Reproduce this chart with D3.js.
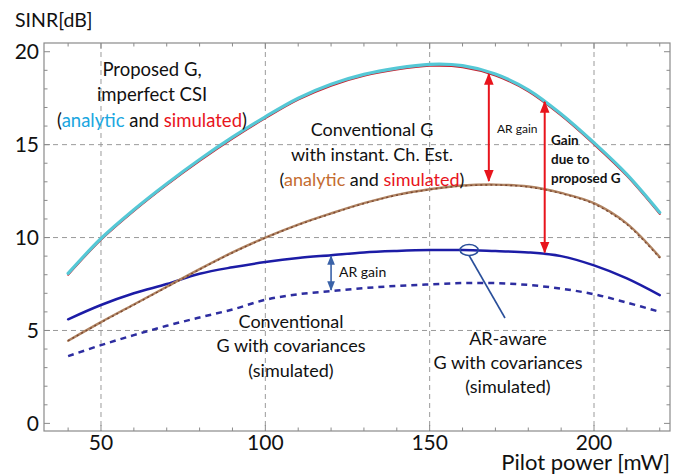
<!DOCTYPE html>
<html>
<head>
<meta charset="utf-8">
<script src="https://cdn.jsdelivr.net/npm/d3@7"></script>
<style>
  html, body { margin: 0; padding: 0; background: #fff; }
  svg text { font-family: Lato, "Noto Sans", sans-serif; }
</style>
</head>
<body>
<svg id="chart" width="684" height="475"></svg>
<script>
// Pilot power sweep [mW]
const pilotPower = [40, 50, 60, 70, 80, 90, 100, 110, 120, 130, 140, 150, 160, 170, 180, 190, 200, 210, 220];

// SINR [dB] per curve
const proposedAnalytic   = [8.07, 9.95, 11.5, 12.9, 14.2, 15.4, 16.5, 17.5, 18.25, 18.78, 19.12, 19.32, 19.25, 18.8, 17.95, 16.65, 15.1, 13.4, 11.35];
const proposedSimulated  = [8.0, 9.88, 11.43, 12.83, 14.12, 15.32, 16.42, 17.42, 18.17, 18.7, 19.04, 19.24, 19.17, 18.72, 17.87, 16.57, 15.02, 13.32, 11.27];
const convInstAnalytic   = [4.45, 5.45, 6.4, 7.35, 8.3, 9.2, 10.0, 10.7, 11.3, 11.85, 12.3, 12.6, 12.8, 12.85, 12.75, 12.4, 11.85, 10.75, 8.95];
const convInstSimulated  = [4.45, 5.43, 6.38, 7.33, 8.28, 9.18, 9.98, 10.68, 11.28, 11.83, 12.28, 12.58, 12.78, 12.83, 12.72, 12.37, 11.8, 10.7, 8.9];
const arAwareCov         = [5.6, 6.37, 7.0, 7.5, 8.05, 8.4, 8.68, 8.9, 9.05, 9.2, 9.28, 9.33, 9.33, 9.27, 9.2, 9.0, 8.5, 7.8, 6.9];
const conventionalCov    = [3.62, 4.21, 4.75, 5.25, 5.7, 6.13, 6.65, 6.95, 7.12, 7.28, 7.4, 7.48, 7.55, 7.55, 7.45, 7.25, 6.95, 6.5, 6.0];

// Axis ticks
const xTickLabels = [50, 100, 150, 200];
const yTickLabels = [0, 5, 10, 15, 20];
const xGrid = [50, 100, 150, 200];
const yGrid = [5, 10, 15];

const svg = d3.select("#chart");
const x = d3.scaleLinear().domain([32.66, 223.12]).range([44, 670]);
const y = d3.scaleLinear().domain([-0.41, 20.47]).range([431, 43]);
const [X0, X1] = x.range();
const [Y1, Y0] = y.range();

// Grid
const grid = svg.append("g").attr("stroke", "#9a9a9a").attr("stroke-width", 1).attr("stroke-dasharray", "5,4");
grid.selectAll(".gx").data(xGrid).join("line")
  .attr("x1", d => x(d)).attr("x2", d => x(d)).attr("y1", Y0).attr("y2", Y1);
grid.selectAll(".gy").data(yGrid).join("line")
  .attr("y1", d => y(d)).attr("y2", d => y(d)).attr("x1", X0).attr("x2", X1);

// Frame ticks (inward, on all four sides)
const minorX = d3.range(40, 221, 10);
const minorY = d3.range(0, 21, 1);
const ticks = svg.append("g").attr("stroke", "#8a8a8a").attr("stroke-width", 1);
minorX.forEach(v => {
  const len = xTickLabels.includes(v) ? 6 : 3.5;
  ticks.append("line").attr("x1", x(v)).attr("x2", x(v)).attr("y1", Y1).attr("y2", Y1 - len);
  ticks.append("line").attr("x1", x(v)).attr("x2", x(v)).attr("y1", Y0).attr("y2", Y0 + len);
});
minorY.forEach(v => {
  const len = yTickLabels.includes(v) ? 6 : 3.5;
  ticks.append("line").attr("y1", y(v)).attr("y2", y(v)).attr("x1", X0).attr("x2", X0 + len);
  ticks.append("line").attr("y1", y(v)).attr("y2", y(v)).attr("x1", X1).attr("x2", X1 - len);
});

// Frame
svg.append("rect").attr("x", X0).attr("y", Y0).attr("width", X1 - X0).attr("height", Y1 - Y0)
  .attr("fill", "none").attr("stroke", "#8a8a8a").attr("stroke-width", 1.2);

// Tick labels
svg.append("g").selectAll("text").data(xTickLabels).join("text")
  .attr("x", d => x(d)).attr("y", 450).attr("text-anchor", "middle")
  .attr("font-size", 21).attr("fill", "#111").text(d => d);
svg.append("g").selectAll("text").data(yTickLabels).join("text")
  .attr("x", 39).attr("y", d => y(d) + 7.5).attr("text-anchor", "end")
  .attr("font-size", 21).attr("fill", "#111").text(d => d);

// Axis titles
svg.append("text").attr("x", 15).attr("y", 27).attr("font-size", 19.5).attr("fill", "#111").text("SINR[dB]");
svg.append("text").attr("x", 670).attr("y", 470).attr("text-anchor", "end").attr("font-size", 22).attr("fill", "#111").text("Pilot power [mW]");

// Curves
const line = vals => d3.line().x((d, i) => x(pilotPower[i])).y(d => y(d)).curve(d3.curveCatmullRom.alpha(0.5))(vals);
const plot = svg.append("g").attr("fill", "none").attr("stroke-linecap", "round");

plot.append("path").attr("d", line(conventionalCov)).attr("stroke", "#2d2da0").attr("stroke-width", 2.5).attr("stroke-dasharray", "6,5").attr("stroke-linecap", "butt");
plot.append("path").attr("d", line(arAwareCov)).attr("stroke", "#1c1ca6").attr("stroke-width", 2.5);
plot.append("path").attr("d", line(convInstAnalytic)).attr("stroke", "#b08462").attr("stroke-width", 2.4);
plot.append("path").attr("d", line(convInstSimulated)).attr("stroke", "#7a4630").attr("stroke-width", 1.4).attr("stroke-dasharray", "2,3").attr("stroke-linecap", "butt");
plot.append("path").attr("d", line(proposedSimulated)).attr("stroke", "#c8202e").attr("stroke-width", 2);
plot.append("path").attr("d", line(proposedAnalytic)).attr("stroke", "#55c8d6").attr("stroke-width", 3.2);

// Arrow markers
const defs = svg.append("defs");
function marker(id, color) {
  defs.append("marker").attr("id", id).attr("viewBox", "0 0 10 10").attr("refX", 9).attr("refY", 5)
    .attr("markerWidth", 6).attr("markerHeight", 6).attr("orient", "auto-start-reverse")
    .append("path").attr("d", "M0,1 L10,5 L0,9 Z").attr("fill", color);
}
marker("redHead", "#e8141c");
marker("blueHead", "#3a62a8");

function dblArrow(xv, yTop, yBot, color, id, w) {
  svg.append("line").attr("x1", x(xv)).attr("x2", x(xv)).attr("y1", y(yTop)).attr("y2", y(yBot))
    .attr("stroke", color).attr("stroke-width", w)
    .attr("marker-start", `url(#${id})`).attr("marker-end", `url(#${id})`);
}
dblArrow(168, 18.8, 13.05, "#e8141c", "redHead", 2);
dblArrow(185, 17.3, 9.2, "#e8141c", "redHead", 2);
dblArrow(120, 9.0, 7.18, "#3a62a8", "blueHead", 1.6);

// Marker ellipse and leader line
svg.append("ellipse").attr("cx", x(162)).attr("cy", y(9.33)).attr("rx", 9).attr("ry", 5.5)
  .attr("fill", "none").attr("stroke", "#2a4f9a").attr("stroke-width", 1.6);
svg.append("line").attr("x1", x(162)).attr("y1", y(9.33) + 5.5).attr("x2", 505).attr("y2", 318)
  .attr("stroke", "#2a4f9a").attr("stroke-width", 1.6);

// Text annotations
function block(cx, baselines, lines, size, weight, anchor) {
  lines.forEach((parts, i) => {
    const t = svg.append("text").attr("x", cx).attr("y", baselines[i]).attr("text-anchor", anchor || "middle")
      .attr("font-size", size).attr("font-weight", weight || "normal").attr("fill", "#111");
    parts.forEach(p => t.append("tspan").attr("fill", p[1] || "#111").text(p[0]));
  });
}
block(152, [76, 101, 127], [
  [["Proposed G,"]],
  [["imperfect CSI"]],
  [["("], ["analytic", "#1aa6e0"], [" and "], ["simulated", "#e8141c"], [")"]]
], 18.5);
block(372, [136, 161, 186], [
  [["Conventional G"]],
  [["with instant. Ch. Est."]],
  [["("], ["analytic", "#c46c30"], [" and "], ["simulated", "#e8141c"], [")"]]
], 18);
block(291, [328, 352, 377], [
  [["Conventional"]],
  [["G with covariances"]],
  [["(simulated)"]]
], 18);
block(508, [345, 369, 393], [
  [["AR-aware"]],
  [["G with covariances"]],
  [["(simulated)"]]
], 18);
block(497, [133], [[["AR gain"]]], 12, "normal", "start");
block(339, [277], [[["AR gain"]]], 14, "normal", "start");
block(551, [145, 164, 183], [
  [["Gain"]],
  [["due to"]],
  [["proposed G"]]
], 13.5, "bold", "start");
</script>
</body>
</html>
